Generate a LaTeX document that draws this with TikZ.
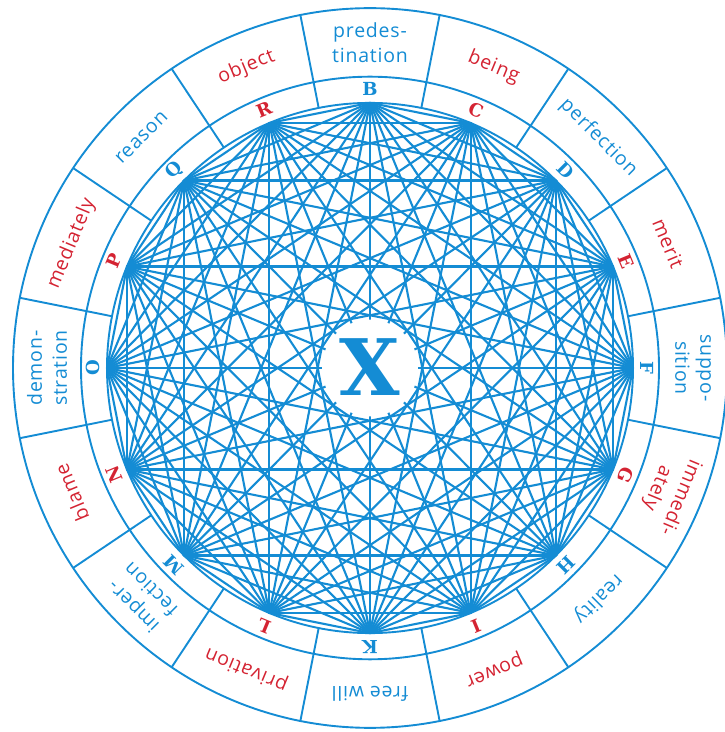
\documentclass[tikz,border=0pt]{standalone}
\usepackage{fontspec}
\newfontfamily\labfont[LetterSpace=4]{Open Sans}
\newfontfamily\letfont{DejaVu Serif}
\definecolor{lblue}{RGB}{20,140,212}
\definecolor{lred}{RGB}{212,35,50}
\begin{document}
\begin{tikzpicture}[x=1pt,y=1pt,
  chord/.style={lblue, line width=2.1pt},
  ring/.style={lblue, line width=1.9pt},
  letterlab/.style={font=\letfont\bfseries\fontsize{18}{18}\selectfont, inner sep=0pt},
  wordlab/.style={font=\labfont\fontsize{19.5}{25}\selectfont, align=center, inner sep=0pt},
]
\useasboundingbox (0,0) rectangle (724,732);
\begin{scope}[shift={(370,364)}, yscale=1.008]
  \foreach \i in {0,...,15} \coordinate (p\i) at ({90-22.5*\i}:263);
  \foreach \i in {0,...,14} {
    \pgfmathtruncatemacro\s{\i+1}
    \foreach \j in {\s,...,15} \draw[chord] (p\i) -- (p\j);
  }
  \fill[white] (0,0) circle (48);
  \node[font=\letfont\bfseries\fontsize{78}{78}\selectfont, text=lblue, inner sep=0pt] (X) at (0,1) {X};
  \draw[ring] (0,0) circle (357);
  \draw[ring] (0,0) circle (289);
  \draw[ring] (0,0) circle (263);
  \foreach \L/\T/\C [count=\i from 0] in {B/{predes-\\tination}/lblue, C/being/lred, D/perfection/lblue, E/merit/lred, F/{suppo-\\sition}/lblue, G/{immedi-\\ately}/lred, H/reality/lblue, I/power/lred, K/free will/lblue, L/privation/lred, M/{imper-\\fection}/lblue, N/blame/lred, O/{demon-\\stration}/lblue, P/mediately/lred, Q/reason/lblue, R/object/lred} {
    \pgfmathsetmacro\a{90-22.5*\i}
    \node[letterlab, text=\C, rotate={\a-90}] (L\L) at (\a:277) {\L};
    \node[wordlab, text=\C, rotate={\a-90}] (W\L) at (\a:323) {\T};
    \draw[ring] ({\a+11.25}:263) -- ({\a+11.25}:357);
  }
\end{scope}
\end{tikzpicture}
\end{document}
